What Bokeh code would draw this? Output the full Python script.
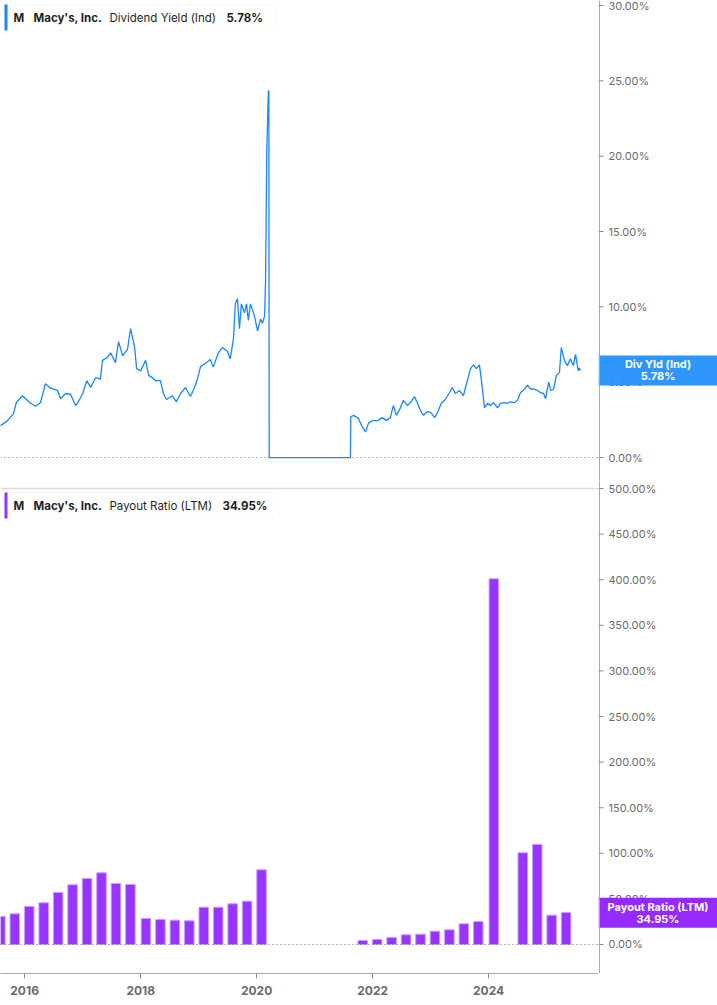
import pandas as pd
from bokeh.plotting import figure
from bokeh.models import (Range1d, FixedTicker, DatetimeTickFormatter, Span, Label, BoxAnnotation)
from bokeh.layouts import column, row
from bokeh.embed import file_html
from bokeh.resources import INLINE
from bokeh.core.properties import value

# ---------------- data ----------------
yield_dates = [
    "2015-08-01", "2015-09-15", "2015-10-22", "2015-11-10", "2015-12-18", "2016-02-07", "2016-03-10",
    "2016-04-10", "2016-05-11", "2016-06-12", "2016-07-26", "2016-08-14", "2016-09-15", "2016-10-16",
    "2016-11-17", "2016-11-29", "2017-01-01", "2017-01-26", "2017-02-20", "2017-03-22", "2017-04-22",
    "2017-05-05", "2017-06-06", "2017-06-25", "2017-07-26", "2017-08-14", "2017-09-09", "2017-10-10",
    "2017-10-29", "2017-11-24", "2017-12-06", "2018-01-01", "2018-02-01", "2018-02-20", "2018-03-15",
    "2018-04-03", "2018-05-05", "2018-05-24", "2018-06-12", "2018-07-19", "2018-08-14", "2018-09-09",
    "2018-10-10", "2018-11-10", "2018-12-06", "2018-12-25", "2019-01-13", "2019-02-14", "2019-03-15",
    "2019-04-03", "2019-05-05", "2019-05-30", "2019-07-01", "2019-07-19", "2019-08-08", "2019-08-20",
    "2019-09-02", "2019-09-15", "2019-09-27", "2019-10-16", "2019-10-29", "2019-11-10", "2019-11-23",
    "2019-12-18", "2020-01-07", "2020-01-26", "2020-02-07", "2020-02-20", "2020-02-26", "2020-03-05",
    "2020-03-15", "2020-03-18", "2020-03-20", "2021-08-14", "2021-08-16", "2021-09-02", "2021-10-03",
    "2021-10-29", "2021-11-17", "2021-12-06", "2022-01-01", "2022-02-01", "2022-03-03", "2022-03-28",
    "2022-04-22", "2022-05-11", "2022-05-30", "2022-06-25", "2022-07-13", "2022-08-08", "2022-08-27",
    "2022-09-21", "2022-10-10", "2022-10-29", "2022-11-17", "2022-12-12", "2023-01-01", "2023-01-26",
    "2023-02-14", "2023-03-09", "2023-04-03", "2023-04-29", "2023-05-17", "2023-06-06", "2023-07-01",
    "2023-07-26", "2023-08-20", "2023-09-09", "2023-09-27", "2023-10-16", "2023-11-04", "2023-11-17",
    "2023-12-06", "2023-12-25", "2024-01-13", "2024-02-01", "2024-02-26", "2024-03-15", "2024-04-10",
    "2024-04-29", "2024-05-17", "2024-06-12", "2024-07-01", "2024-07-19", "2024-08-14", "2024-09-02",
    "2024-09-21", "2024-10-10", "2024-11-04", "2024-11-23", "2024-12-12", "2024-12-25", "2025-01-13",
    "2025-01-26", "2025-02-14", "2025-03-03", "2025-03-22", "2025-04-03", "2025-04-22", "2025-05-11",
    "2025-05-30", "2025-06-18", "2025-07-01", "2025-07-19", "2025-07-26", "2025-08-01",
]
yield_values = [
    2.1, 2.45, 2.9, 3.65, 4.1, 3.6, 3.4,
    3.65, 4.9, 4.6, 4.45, 3.9, 4.25, 4.2,
    3.45, 3.6, 4.25, 5.1, 4.65, 5.3, 5.2,
    6.45, 6.65, 6.95, 6.3, 7.7, 6.75, 7.2,
    8.55, 7.3, 5.9, 5.75, 6.45, 5.45, 5.3,
    5.1, 5.1, 4.25, 3.85, 4.1, 3.7, 4.25,
    4.65, 4.05, 4.65, 5.25, 6.05, 6.25, 6.5,
    6.0, 6.95, 7.3, 7.05, 6.55, 7.9, 10.2,
    10.55, 8.55, 10.2, 9.6, 10.2, 9.1, 10.2,
    9.4, 8.4, 9.2, 8.9, 9.4, 11.6, 20.4,
    24.35, 24.3, 0.0, 0.0, 2.7, 2.8, 2.6,
    2.0, 1.7, 2.3, 2.45, 2.45, 2.65, 2.45,
    2.65, 3.45, 2.8, 3.3, 3.8, 3.45, 3.65,
    4.05, 3.6, 3.1, 2.8, 3.05, 3.0, 2.65,
    3.0, 3.6, 3.85, 4.3, 4.65, 4.25, 4.45,
    4.1, 5.1, 5.9, 6.15, 5.9, 6.15, 5.1,
    3.3, 3.6, 3.45, 3.65, 3.3, 3.6, 3.65,
    3.6, 3.7, 3.65, 3.8, 4.3, 4.55, 4.8,
    4.55, 4.55, 4.45, 4.3, 4.25, 3.9, 5.0,
    4.45, 4.55, 5.45, 5.65, 7.3, 6.45, 6.1,
    6.55, 6.1, 6.85, 5.75, 5.95, 5.78,
]

payout_dates = [
    "2015-08-01", "2015-10-31", "2016-01-30", "2016-04-30", "2016-07-30", "2016-10-29", "2017-01-28",
    "2017-04-29", "2017-07-29", "2017-10-28", "2018-02-03", "2018-05-05", "2018-08-04", "2018-11-03",
    "2019-02-02", "2019-05-04", "2019-08-03", "2019-11-02", "2020-02-01", "2021-10-30", "2022-01-29",
    "2022-04-30", "2022-07-30", "2022-10-29", "2023-01-28", "2023-04-29", "2023-07-29", "2023-10-28",
    "2024-02-03", "2024-08-03", "2024-11-02", "2025-02-01", "2025-05-03",
]
payout_values = [
    30.7, 33.6, 41.7, 45.7, 57.0, 65.4, 72.4,
    78.6, 66.9, 65.8, 28.5, 27.4, 26.7, 26.0,
    40.9, 40.9, 44.6, 47.5, 81.9, 4.4, 5.5,
    7.7, 10.6, 11.3, 14.6, 16.1, 22.7, 25.2,
    401.0, 100.5, 109.6, 32.2, 34.95,
]

yield_ticks = [0, 5, 10, 15, 20, 25, 30]
payout_ticks = [0, 50, 100, 150, 200, 250, 300, 350, 400, 450, 500]
x_tick_years = [2016, 2018, 2020, 2022, 2024]

company_ticker = "M"
company_name = "Macy's, Inc."
yield_name = "Dividend Yield (Ind)"
yield_short = "Div Yld (Ind)"
payout_name = "Payout Ratio (LTM)"

# ---------------- styles ----------------
BLUE = "#1a88f8"
BOX_BLUE = "#2290fb"
PURPLE = "#9933ff"
BOX_PURPLE = "#8f1dfc"
FONT = "Inter"
AX_COL = "#a8a8a8"
TICK_COL = "#8a8a8a"
LBL_COL = "#6b6b6b"

FRAME_W = 598
RIGHT_W = 119
TOP_H = 481
BOT_H = 492
BOT_MB = 32

x0 = pd.Timestamp("2015-08-02")
x1 = pd.Timestamp("2025-11-23")

yd = pd.to_datetime(yield_dates)
pdts = pd.to_datetime(payout_dates)


def base_fig(**kw):
    p = figure(toolbar_location=None, output_backend="svg", min_border=0,
               background_fill_color="white", border_fill_color="white", **kw)
    p.outline_line_color = None
    p.grid.visible = False
    return p


def add_header(p, frame_h, series_text, val_text, color, val_x, box_r):
    top = frame_h - 4
    bot = frame_h - 30
    p.add_layout(BoxAnnotation(left=4, right=box_r, top=top, bottom=bot,
                               left_units="screen", right_units="screen",
                               top_units="screen", bottom_units="screen",
                               fill_color="white", fill_alpha=1.0,
                               line_color="#e3e3e3", line_width=1, border_radius=4))
    p.add_layout(BoxAnnotation(left=4, right=7, top=top, bottom=bot,
                               left_units="screen", right_units="screen",
                               top_units="screen", bottom_units="screen",
                               fill_color=color, fill_alpha=1.0, line_color=None))
    yc = frame_h - 17
    parts = [(company_ticker, "bold", 13), (company_name, "bold", 33),
             (series_text, "normal", 109), (val_text, "bold", val_x)]
    for txt, style, xx in parts:
        p.add_layout(Label(x=xx, y=yc, x_units="screen", y_units="screen", text=txt,
                           text_font=FONT, text_font_size="11.5px", text_font_style=style,
                           text_color="#1f1f1f", text_baseline="middle", text_align="left"))


def side_axis(yrange, frame_h, ticks, last_val, line1, line2, box_color, mb=0, top_nudge=0):
    s = base_fig(frame_width=RIGHT_W, frame_height=frame_h, x_range=Range1d(-1, RIGHT_W - 1),
                 y_range=yrange, x_axis_location=None, y_axis_location=None,
                 min_border_bottom=mb)
    s.add_layout(Span(location=0, dimension="height", line_color=AX_COL, line_width=1))
    s.scatter(x=[0] * len(ticks), y=ticks, marker="dash", size=8, line_color=TICK_COL,
              line_width=1)
    offs = [0] * (len(ticks) - 1) + [top_nudge]
    s.text(x=[0] * len(ticks), y=ticks, text=[f"{t:.2f}%" for t in ticks], x_offset=9,
           y_offset=offs, text_baseline="middle", text_align="left", text_font=value(FONT),
           text_font_size="11px", text_color=LBL_COL)
    ppu = frame_h / (yrange.end - yrange.start)
    half = 15 / ppu
    s.quad(left=[-1], right=[RIGHT_W - 1], bottom=[last_val - half], top=[last_val + half],
           fill_color=box_color, fill_alpha=0.94, line_color=None)
    s.text(x=[(RIGHT_W - 2) / 2] * 2, y=[last_val, last_val], text=[line1, line2],
           y_offset=[-6, 6], text_baseline="middle", text_align="center",
           text_font=value(FONT), text_font_size="11px", text_font_style="bold",
           text_color="white")
    return s


# ---------------- top: dividend yield ----------------
yr1 = Range1d(-1.59, 30.33)
p1 = base_fig(frame_width=FRAME_W, frame_height=TOP_H, x_axis_type="datetime",
              x_range=Range1d(x0, x1), y_range=yr1, y_axis_location=None,
              x_axis_location=None)
p1.add_layout(Span(location=0, dimension="width", line_color="#777777",
                   line_dash="1 3", line_width=1))
p1.line(yd, yield_values, line_color=BLUE, line_width=1.3)
add_header(p1, TOP_H, yield_name, f"{yield_values[-1]:.2f}%", BLUE, 226, 275)
s1 = side_axis(yr1, TOP_H, yield_ticks, yield_values[-1], yield_short,
               f"{yield_values[-1]:.2f}%", BOX_BLUE, top_nudge=1)

# ---------------- bottom: payout ratio ----------------
yr2 = Range1d(-31.8, 507.7)
p2 = base_fig(frame_width=FRAME_W, frame_height=BOT_H, x_axis_type="datetime",
              x_range=p1.x_range, y_range=yr2, y_axis_location=None,
              min_border_bottom=BOT_MB)
xa = p2.xaxis[0]
xa.ticker = FixedTicker(ticks=[pd.Timestamp(f"{y}-01-01").value // 10**6 for y in x_tick_years])
xa.formatter = DatetimeTickFormatter(years="%Y", months="%Y", days="%Y")
xa.axis_line_color = AX_COL
xa.major_tick_line_color = TICK_COL
xa.major_tick_out = 5
xa.major_tick_in = 0
xa.minor_tick_line_color = None
xa.major_label_text_font = FONT
xa.major_label_text_font_size = "12px"
xa.major_label_text_font_style = "bold"
xa.major_label_text_color = LBL_COL
xa.major_label_standoff = 7

p2.add_layout(Span(location=payout_ticks[-1], dimension="width", line_color="#dcdcdc",
                   line_width=1.5))
p2.add_layout(Span(location=0, dimension="width", line_color="#777777",
                   line_dash="1 3", line_width=1))
bar_w = pd.Timedelta(days=60).total_seconds() * 1000
p2.vbar(x=pdts, top=payout_values, width=bar_w, bottom=0,
        fill_color=PURPLE, line_color="#c89dff", line_width=1)
add_header(p2, BOT_H - 7, payout_name, f"{payout_values[-1]:.2f}%", PURPLE, 222, 277)
s2 = side_axis(yr2, BOT_H, payout_ticks, payout_values[-1], payout_name,
               f"{payout_values[-1]:.2f}%", BOX_PURPLE, mb=BOT_MB)

layout = column(row(p1, s1, spacing=0), row(p2, s2, spacing=0), spacing=0)
open("out.html", "w").write(file_html(layout, INLINE))
